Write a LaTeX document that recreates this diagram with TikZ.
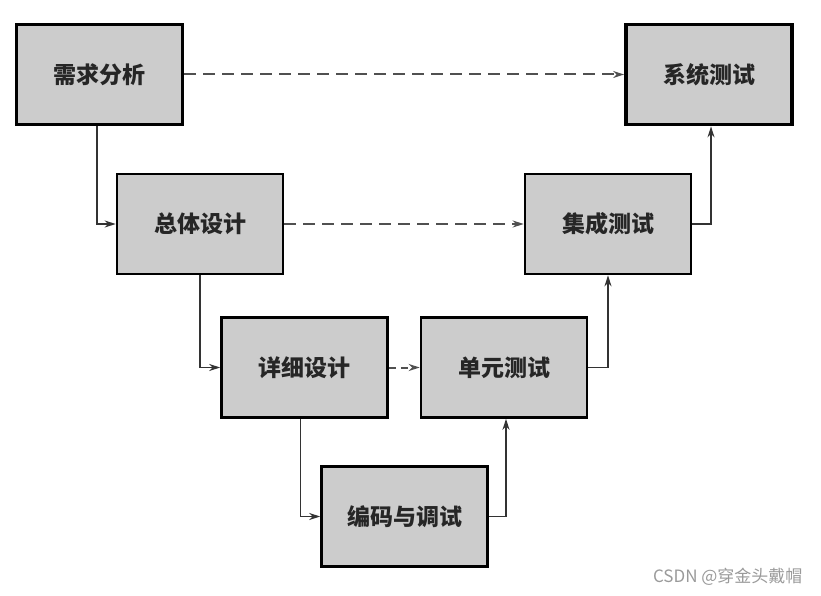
\documentclass[tikz,border=0pt]{standalone}
\usepackage{fontspec}
\newfontfamily\cjk{Noto Sans CJK SC}
\usetikzlibrary{arrows.meta}
\definecolor{boxfill}{HTML}{CCCCCC}
\definecolor{linegray}{HTML}{333333}
\definecolor{dashgray}{HTML}{505050}
\definecolor{wmgray}{HTML}{9A9A9A}
\begin{document}
\begin{tikzpicture}[x=1pt,y=1pt,
  stagebox/.style={draw=black, fill=boxfill, line width=2.6pt, inner sep=0pt,
    minimum width=166pt, minimum height=100pt, font=\cjk\fontsize{23}{26}\selectfont\bfseries, text=black!85},
  thickbox/.style={stagebox, line width=3.8pt},
  conn/.style={draw=linegray, line width=1.5pt, -{Stealth[length=11pt,width=7pt]}},
  dconn/.style={draw=dashgray, line width=2pt, dash pattern=on 12pt off 7pt, -{Stealth[length=11pt,width=7pt]}}
]
\useasboundingbox (0,0) rectangle (821,-596);
\node[thickbox] (xq) at (99.5,-74.5) {需求分析};
\node[stagebox] (zt) at (200,-224) {总体设计};
\node[stagebox] (xx) at (304.5,-367.5) {详细设计};
\node[stagebox] (bm) at (404.5,-516.5) {编码与调试};
\node[stagebox] (dy) at (504,-367.5) {单元测试};
\node[stagebox] (jc) at (608,-224) {集成测试};
\node[thickbox] (xt) at (709,-74.5) {系统测试};
\draw[conn] ([xshift=-2.5pt]xq.south) |- (zt.west);
\draw[conn] (zt.south) |- (xx.west);
\draw[conn] ([xshift=-4pt]xx.south) |- (bm.west);
\draw[conn] (bm.east) -| ([xshift=2pt]dy.south);
\draw[conn] (dy.east) -| (jc.south);
\draw[conn] (jc.east) -| ([xshift=2pt]xt.south);
\draw[dconn] (xq.east) -- (xt.west);
\draw[dconn] (zt.east) -- (jc.west);
\draw[dconn, dash pattern=on 7pt off 5pt] (xx.east) -- (dy.west);
\node[font=\cjk\fontsize{17}{19}\selectfont, text=wmgray, anchor=east] (wm) at (806,-577) {CSDN @穿金头戴帽};
\end{tikzpicture}
\end{document}
